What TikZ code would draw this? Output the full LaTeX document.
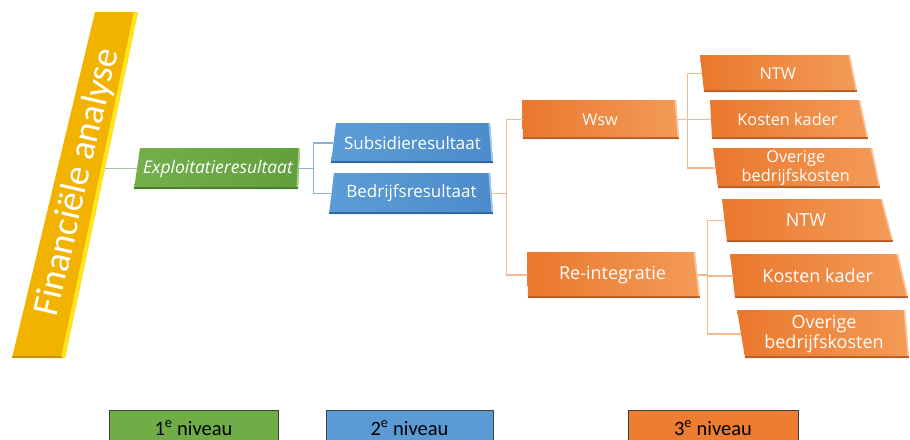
\documentclass[tikz,border=0pt]{standalone}
\usepackage{fontspec}
\setmainfont{Open Sans}
\newfontfamily\calib{Carlito}
\definecolor{grL}{HTML}{74AF4C}
\definecolor{grR}{HTML}{62A03D}
\definecolor{grD}{HTML}{4A7F2C}
\definecolor{grH}{HTML}{A6D37A}
\definecolor{blL}{HTML}{5C9CD8}
\definecolor{blR}{HTML}{4C8CCA}
\definecolor{blD}{HTML}{2F69A0}
\definecolor{blH}{HTML}{9CC8EE}
\definecolor{orL}{HTML}{EA782D}
\definecolor{orR}{HTML}{F39B58}
\definecolor{orD}{HTML}{BA602A}
\definecolor{orH}{HTML}{F9C49A}
\definecolor{yeF}{HTML}{F2B300}
\definecolor{yeH}{HTML}{FFE61C}
\definecolor{yeD}{HTML}{C89200}
\definecolor{cgC}{HTML}{A9C2A6}
\definecolor{cbC}{HTML}{8EAFD6}
\definecolor{coC}{HTML}{F5B98D}
\definecolor{lgG}{HTML}{70AD47}
\definecolor{lgB}{HTML}{5B9BD5}
\definecolor{lgO}{HTML}{ED7D31}
\newcommand\pbfont{}
\newcommand\pbox[9]{%
  \pgfmathsetmacro\pbcx{(#3+#5)/2+((#7)+(#8))/4}%
  \pgfmathsetmacro\pbcy{(#4+#6)/2}%
  \pgfmathsetmacro\pbw{#5-#3+((#8)-(#7))/2}%
  \pgfmathsetmacro\pbh{#6-#4}%
  \shade[left color=#2L, right color=#2R] (#3,#4) -- (#5,#4) -- ({#5+(#8)},#6) -- ({#3+(#7)},#6) -- cycle;
  \draw[#2D, line width=2pt] ({#3+(#7)},{#6-1}) -- ({#5+(#8)},{#6-1});
  \draw[#2H, line width=1.5pt] ({#5-0.8},#4) -- ({#5+(#8)-0.8},{#6-2});
  \node[boxtext, font=\pbfont, minimum width=\pbw pt, minimum height=\pbh pt] (#1) at (\pbcx,\pbcy) {#9};
}
\newcommand\szA{\fontsize{17.5}{20}\selectfont\itshape}
\newcommand\szB{\fontsize{17}{20}\selectfont}
\newcommand\szC{\fontsize{16.3}{18.5}\selectfont}
\newcommand\szD{\fontsize{18}{20.5}\selectfont}
\begin{document}
\begin{tikzpicture}[x=1pt,y=-1pt,
  boxtext/.style={text=white, inner sep=0pt, align=center},
  cg/.style={draw=cgC, line width=1.2pt},
  cb/.style={draw=cbC, line width=1.2pt},
  co/.style={draw=coC, line width=1.2pt},
  legbox/.style={draw=black!75, line width=0.8pt},
  legtext/.style={inner sep=0pt, font=\calib\fontsize{20.5}{24}\selectfont, text=black}]
\useasboundingbox (0,0) rectangle (910,439);
\clip (0,0) rectangle (910,439);
% yellow bar
\fill[yeF] (95,12) -- (138,12) -- (65,358) -- (12,358) -- cycle;
\fill[yeH] (134,12) -- (138,12) -- (65,358) -- (61,358) -- cycle;
\draw[yeD, line width=2pt] (12,357) -- (62,357);
\begin{scope}[shift={(78,182)}, x=1pt, y=1pt]
\node[text=white, rotate=77, inner sep=0pt, font=\calib\fontsize{37}{40}\selectfont] (fa) at (0,0) {Financiële analyse};
\end{scope}
\coordinate (far) at (105,168.5);
% boxes
\renewcommand\pbfont{\szA}
\pbox{expl}{gr}{140}{148}{300}{189}{-6}{-2}{Exploitatieresultaat}
\renewcommand\pbfont{\szB}
\pbox{sub}{bl}{336}{123}{490}{163}{-5}{3}{Subsidieresultaat}
\pbox{bed}{bl}{334}{173}{490}{214}{-5}{3}{Bedrijfsresultaat}
\renewcommand\pbfont{\szC}
\pbox{wsw}{or}{522}{100}{676}{139}{1}{3}{Wsw}
\pbox{ntwa}{or}{700}{55}{850}{92}{4}{7}{NTW}
\pbox{kka}{or}{710}{100}{860}{139}{2}{8}{Kosten kader}
\pbox{ova}{or}{713}{148}{872}{188}{5}{8}{Overige\\bedrijfskosten}
\renewcommand\pbfont{\szD}
\pbox{rei}{or}{527}{252}{695}{298}{1}{5}{Re-integratie}
\pbox{ntwb}{or}{722}{199}{882}{242}{5}{11}{NTW}
\pbox{kkb}{or}{730}{254}{898}{298}{5}{10}{Kosten kader}
\pbox{ovb}{or}{737}{310}{905}{358}{8}{4}{Overige\\bedrijfskosten}
% connectors
\draw[cg] (far) -- (expl.west);
\draw[cb] (expl.east) -- ([xshift=14pt]expl.east) |- (sub.west);
\draw[cb] ([xshift=14pt]expl.east) |- (bed.west);
\draw[co] (bed.east) -- ([xshift=14.5pt]bed.east) |- (wsw.west);
\draw[co] ([xshift=14.5pt]bed.east) |- (rei.west);
\draw[co] (wsw.east) -- ([xshift=9.5pt]wsw.east) |- (ntwa.west);
\draw[co] ([xshift=9.5pt]wsw.east) |- (kka.west);
\draw[co] ([xshift=9.5pt]wsw.east) |- (ova.west);
\draw[co] (rei.east) -- ([xshift=9.5pt]rei.east) |- (ntwb.west);
\draw[co] ([xshift=9.5pt]rei.east) |- (kkb.west);
\draw[co] ([xshift=9.5pt]rei.east) |- (ovb.west);
% legend
\fill[lgG] (109,410) rectangle (278,445);
\draw[legbox] (109,410) rectangle (278,445);
\fill[lgB] (326,410) rectangle (493,445);
\draw[legbox] (326,410) rectangle (493,445);
\fill[lgO] (628,410) rectangle (798,445);
\draw[legbox] (628,410) rectangle (798,445);
\node[legtext, anchor=base] (l1) at (193.5,435) {1\textsuperscript{e} niveau};
\node[legtext, anchor=base] (l2) at (409.5,435) {2\textsuperscript{e} niveau};
\node[legtext, anchor=base] (l3) at (713,435) {3\textsuperscript{e} niveau};
\end{tikzpicture}
\end{document}
